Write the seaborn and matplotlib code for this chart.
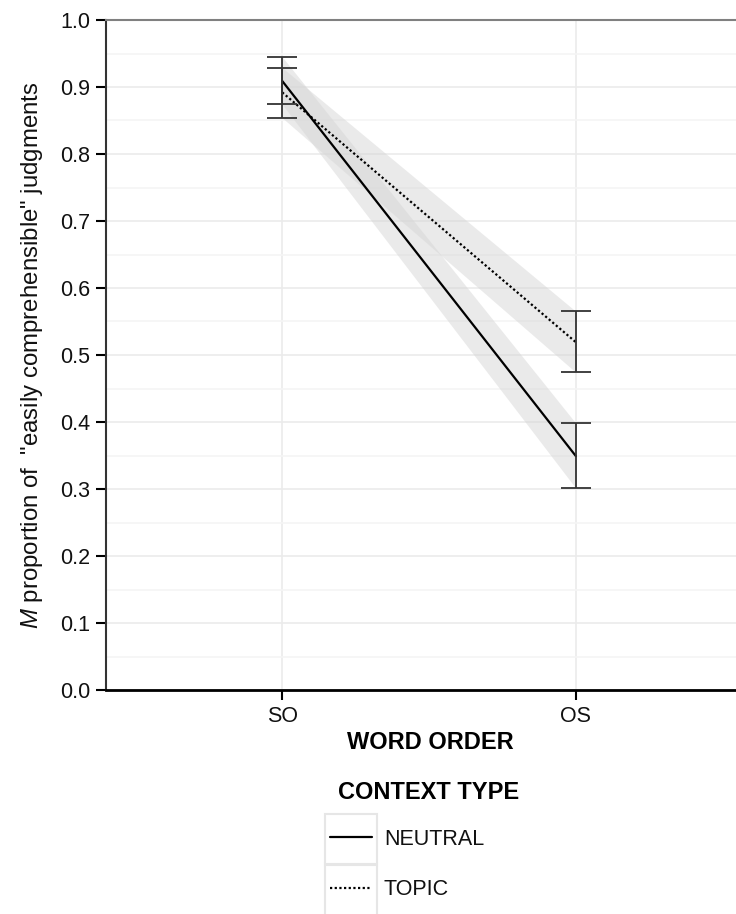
import matplotlib
matplotlib.use("Agg")
import matplotlib.pyplot as plt
import matplotlib.patches as mpatches
import matplotlib.transforms as mtransforms
from matplotlib.lines import Line2D
import numpy as np
import pandas as pd
import seaborn as sns

# ---- data ----
word_order = ["SO", "OS"]
contexts = ["NEUTRAL", "TOPIC"]
neutral_mean = [0.909, 0.349]
neutral_lo = [0.874, 0.301]
neutral_hi = [0.945, 0.398]
topic_mean = [0.892, 0.519]
topic_lo = [0.854, 0.474]
topic_hi = [0.929, 0.565]
y_ticks = [0.0, 0.1, 0.2, 0.3, 0.4, 0.5, 0.6, 0.7, 0.8, 0.9, 1.0]

df = pd.DataFrame({
    "word_order": word_order * 2,
    "context": [contexts[0]] * 2 + [contexts[1]] * 2,
    "mean": neutral_mean + topic_mean,
    "lo": neutral_lo + topic_lo,
    "hi": neutral_hi + topic_hi,
})

sns.set_theme(style="white")
plt.rcParams["font.family"] = ["Liberation Sans", "DejaVu Sans"]
plt.rcParams["mathtext.fontset"] = "custom"
plt.rcParams["mathtext.it"] = "Liberation Sans:italic"
plt.rcParams["mathtext.rm"] = "Liberation Sans"

W, H = 736, 914
fig = plt.figure(figsize=(W / 100, H / 100), dpi=100)
fig.patch.set_facecolor("white")
ax = fig.add_axes([106 / W, 1 - 690 / H, 630 / W, 670 / H])
ax.set_facecolor("white")

# ribbons
for ctx in contexts:
    sub = df[df["context"] == ctx]
    ax.fill_between(sub["word_order"], sub["lo"], sub["hi"],
                    color="#d6d6d6", alpha=0.5, linewidth=0, zorder=1)

styles = {"NEUTRAL": "", "TOPIC": (1, 1.1)}
sns.lineplot(data=df, x="word_order", y="mean", style="context",
             style_order=contexts, dashes=styles, color="black",
             linewidth=1.6, sort=False, legend=False, ax=ax, zorder=3)

for ctx in contexts:
    sub = df[df["context"] == ctx]
    ax.errorbar(sub["word_order"], sub["mean"],
                yerr=[sub["mean"] - sub["lo"], sub["hi"] - sub["mean"]],
                fmt="none", ecolor="#333333", elinewidth=1.3,
                capsize=10.5, capthick=1.3, zorder=4)

ax.set_xlim(-0.6, 1.545)
ax.set_ylim(0, 1.0)
ax.set_yticks(y_ticks)
ax.set_yticklabels([f"{v:.1f}" for v in y_ticks])
ax.set_yticks(np.array(y_ticks[:-1]) + 0.05, minor=True)

ax.grid(False)
ax.yaxis.grid(True, which="major", color="#ebebeb", linewidth=1.2, zorder=0)
ax.yaxis.grid(True, which="minor", color="#f5f5f5", linewidth=1.2, zorder=0)
ax.xaxis.grid(True, which="major", color="#ebebeb", linewidth=1.2, zorder=0)
ax.set_axisbelow(True)

for side in ["left", "bottom", "top"]:
    ax.spines[side].set_visible(True)
ax.spines["right"].set_visible(False)
ax.spines["left"].set_color("#333333")
ax.spines["left"].set_linewidth(1.5)
ax.spines["bottom"].set_color("black")
ax.spines["bottom"].set_linewidth(2.0)
ax.spines["top"].set_color("#808080")
ax.spines["top"].set_linewidth(1.5)

ax.tick_params(axis="both", which="major", bottom=True, left=True,
               length=7, width=1.5, color="black", direction="out",
               labelsize=15.5, labelcolor="#111111", pad=4.5)
ax.tick_params(axis="both", which="minor", length=0)

ax.set_xlabel("WORD ORDER", fontsize=17, fontweight="bold", color="black")
ax.xaxis.set_label_coords((430 - 106) / 630, (690 - 731) / 670)
ax.set_ylabel(r'$\it{M}$ proportion of  "easily comprehensible" judgments',
              fontsize=17.3, color="#111111")
ax.yaxis.set_label_coords((45 - 106) / 630, 0.5)

# legend
handles = [Line2D([], [], color="black", linewidth=1.6, linestyle="-"),
           Line2D([], [], color="black", linewidth=1.6, dashes=(1, 1.1))]
fig.text(429 / W, 1 - 799 / H, "CONTEXT TYPE", ha="center", va="baseline",
         fontsize=17, fontweight="bold", color="black")
leg = fig.legend(handles, contexts, loc="upper left",
                 bbox_to_anchor=(330 / W, 1 - 829 / H), frameon=False,
                 fontsize=15.5, handlelength=1.95, handletextpad=0.55,
                 labelspacing=1.36, borderpad=0, borderaxespad=0)
for t in leg.get_texts():
    t.set_color("#111111")

fig.canvas.draw()
renderer = fig.canvas.get_renderer()
for t in leg.get_texts():
    bb = t.get_window_extent(renderer)
    cy = (bb.y0 + bb.y1) / 2
    rect = mpatches.Rectangle((325, cy - 25.5), 52, 51, fill=False,
                              edgecolor="#e6e6e6", linewidth=1.5,
                              transform=mtransforms.IdentityTransform(),
                              zorder=0)
    fig.add_artist(rect)

fig.savefig("out.png", dpi=100)
